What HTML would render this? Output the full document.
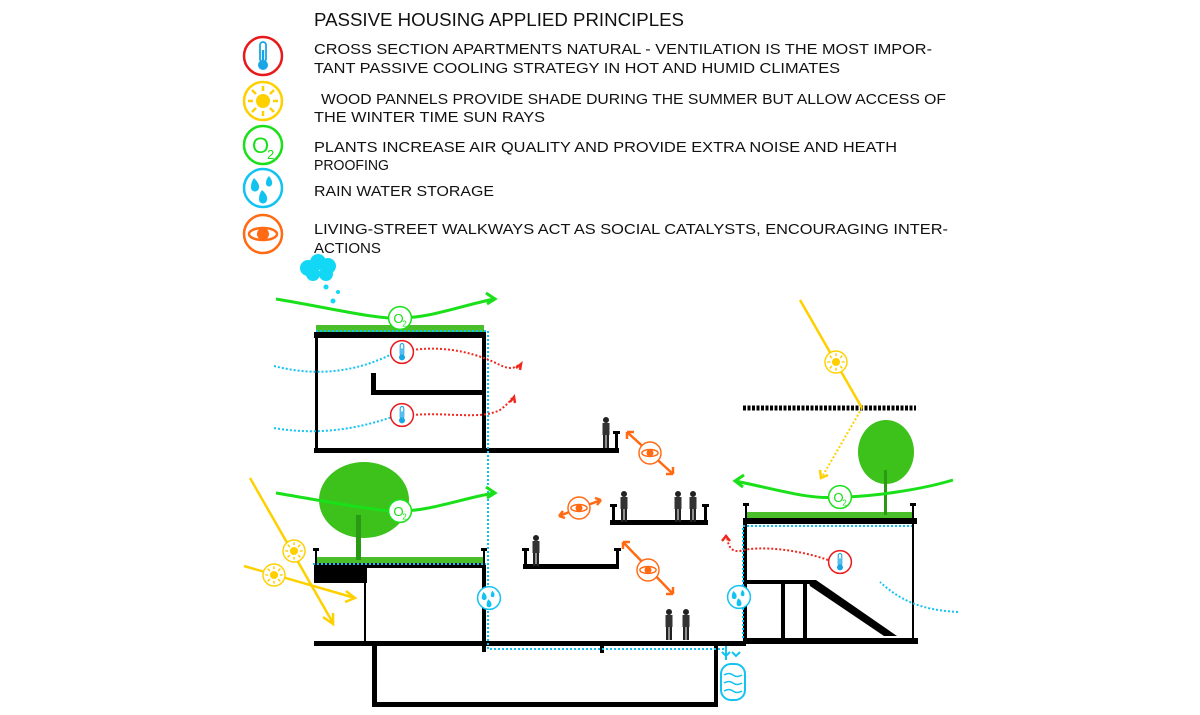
<!DOCTYPE html>
<html><head><meta charset="utf-8"><style>
html,body{margin:0;padding:0;background:#fff;}
svg{display:block;}
text{font-family:"Liberation Sans",sans-serif;}
</style></head><body>
<svg width="1200" height="715" viewBox="0 0 1200 715" xmlns="http://www.w3.org/2000/svg">
<defs>
<g id="therm"><circle r="19" fill="#fff" stroke="#e8191b" stroke-width="2.5"/><rect x="-3" y="-14" width="6" height="20" rx="3" fill="none" stroke="#19a5e6" stroke-width="1.8"/><rect x="-1.2" y="-6" width="2.4" height="12" fill="#19a5e6"/><circle cy="9" r="5" fill="#19a5e6"/></g>
<g id="sun"><circle r="19" fill="#fff" stroke="#ffd000" stroke-width="2.5"/><circle r="7" fill="#ffd000"/><g stroke="#ffd000" stroke-width="2.5"><line x1="0" y1="-10" x2="0" y2="-15"/><line x1="0" y1="10" x2="0" y2="15"/><line x1="-10" y1="0" x2="-15" y2="0"/><line x1="10" y1="0" x2="15" y2="0"/><line x1="7" y1="7" x2="11" y2="11"/><line x1="-7" y1="-7" x2="-11" y2="-11"/><line x1="7" y1="-7" x2="11" y2="-11"/><line x1="-7" y1="7" x2="-11" y2="11"/></g></g>
<g id="rain"><circle r="19" fill="#fff" stroke="#12c3f2" stroke-width="2.5"/><path d="M-9,-10 q6,6 5,10 a4,4 0 0 1 -8,-1 q0,-5 3,-9z M6,-12 q4,5 3,8 a3,3 0 0 1 -6,-1 q0,-4 3,-7z M-1,2 q6,5 5,10 a4,4 0 0 1 -8,-1 q0,-5 3,-9z" fill="#12c3f2"/></g>
<g id="eye"><circle r="19" fill="#fff" stroke="#ff6a13" stroke-width="2.5"/><ellipse rx="14" ry="6" fill="none" stroke="#ff6a13" stroke-width="2.5"/><circle r="6" fill="#ff6a13"/></g>
<g id="o2"><circle r="19" fill="#fff" stroke="#1ae01a" stroke-width="2.5"/><text x="-11" y="8" font-size="22" fill="#1ae01a">O</text><text x="4" y="14" font-size="13" fill="#1ae01a">2</text></g>
<g id="person"><circle cx="0" cy="-22" r="3" fill="#222"/><rect x="-3.5" y="-19" width="7" height="12" fill="#333"/><rect x="-3" y="-7" width="2.5" height="13" fill="#222"/><rect x="0.5" y="-7" width="2.5" height="13" fill="#222"/></g>
</defs>

<g fill="#111">
<text x="314" y="26" font-size="18" textLength="370" lengthAdjust="spacingAndGlyphs">PASSIVE HOUSING APPLIED PRINCIPLES</text>
<g font-size="15">
<text x="314" y="54" textLength="618" lengthAdjust="spacingAndGlyphs">CROSS SECTION APARTMENTS NATURAL - VENTILATION IS THE MOST IMPOR-</text>
<text x="314" y="73" textLength="526" lengthAdjust="spacingAndGlyphs">TANT PASSIVE COOLING STRATEGY IN HOT AND HUMID CLIMATES</text>
<text x="321" y="104" textLength="625" lengthAdjust="spacingAndGlyphs">WOOD PANNELS PROVIDE SHADE DURING THE SUMMER BUT ALLOW ACCESS OF</text>
<text x="314" y="122" textLength="231" lengthAdjust="spacingAndGlyphs">THE WINTER TIME SUN RAYS</text>
<text x="314" y="152" textLength="583" lengthAdjust="spacingAndGlyphs">PLANTS INCREASE AIR QUALITY AND PROVIDE EXTRA NOISE AND HEATH</text>
<text x="314" y="170" textLength="75" lengthAdjust="spacingAndGlyphs">PROOFING</text>
<text x="314" y="196" textLength="180" lengthAdjust="spacingAndGlyphs">RAIN WATER STORAGE</text>
<text x="314" y="234" textLength="634" lengthAdjust="spacingAndGlyphs">LIVING-STREET WALKWAYS ACT AS SOCIAL CATALYSTS, ENCOURAGING INTER-</text>
<text x="314" y="253" textLength="67" lengthAdjust="spacingAndGlyphs">ACTIONS</text>
</g></g>
<use href="#therm" x="263" y="56"/>
<use href="#sun" x="263" y="101"/>
<use href="#o2" x="263" y="145"/>
<use href="#rain" x="263" y="188"/>
<use href="#eye" x="263" y="234"/>

<g fill="#12d8f5"><circle cx="308" cy="268" r="8"/><circle cx="318" cy="262" r="8"/><circle cx="328" cy="266" r="8"/><circle cx="313" cy="274" r="7"/><circle cx="326" cy="274" r="7"/><circle cx="326" cy="287" r="2.5"/><circle cx="338" cy="292" r="2"/><circle cx="333" cy="301" r="2.5"/></g>

<g fill="#4bbf2a"><rect x="316" y="325" width="168" height="8"/><rect x="316" y="557" width="168" height="8"/><rect x="747" y="512" width="165" height="8"/></g>

<!-- trees -->
<g fill="#3cc21a"><ellipse cx="364" cy="500" rx="45" ry="38"/><ellipse cx="886" cy="452" rx="28" ry="32"/></g>
<rect x="356" y="515" width="5" height="45" fill="#2a9a14"/>
<rect x="884" y="470" width="3" height="45" fill="#2a9a14"/>

<g fill="#000">
<rect x="314" y="332" width="172" height="6"/>
<rect x="315" y="338" width="3" height="112"/>
<rect x="482" y="338" width="4" height="112"/>
<rect x="372" y="390" width="112" height="5"/>
<rect x="371" y="373" width="5" height="22"/>
<rect x="314" y="448" width="305" height="5"/>
<rect x="314" y="563" width="172" height="5"/>
<rect x="314" y="563" width="53" height="20"/>
<rect x="364" y="583" width="2" height="60"/>
<rect x="482" y="563" width="4" height="89"/>
<rect x="314" y="641" width="432" height="5"/>
<rect x="372" y="646" width="5" height="60"/>
<rect x="372" y="702" width="346" height="5"/>
<rect x="714" y="646" width="4" height="60"/>
<rect x="610" y="520" width="98" height="5"/>
<rect x="523" y="564" width="96" height="5"/>
<rect x="743" y="518" width="174" height="6"/>
<rect x="743" y="524" width="4" height="120"/>
<rect x="912" y="524" width="2" height="116"/>
<rect x="745" y="580" width="67" height="4"/>
<rect x="781" y="584" width="4" height="57"/>
<rect x="803" y="584" width="4" height="57"/>
<polygon points="808,580 816,580 897,636 884,636 810,586"/>
<rect x="743" y="638" width="175" height="6"/>
<rect x="600" y="646" width="4" height="7"/>
</g>
<line x1="743" y1="408" x2="916" y2="408" stroke="#000" stroke-width="5" stroke-dasharray="3,1.5"/>
<g fill="#000"><rect x="615" y="432" width="3" height="17"/><rect x="613" y="431" width="7" height="3"/>
<rect x="612" y="505" width="3" height="16"/><rect x="610" y="504" width="7" height="3"/>
<rect x="704" y="505" width="3" height="16"/><rect x="702" y="504" width="7" height="3"/>
<rect x="524" y="549" width="3" height="16"/><rect x="522" y="548" width="7" height="3"/>
<rect x="616" y="549" width="3" height="16"/><rect x="614" y="548" width="7" height="3"/>
<rect x="315" y="549" width="2" height="15"/><rect x="313" y="548" width="6" height="3"/>
<rect x="483" y="549" width="2" height="15"/><rect x="481" y="548" width="6" height="3"/>
<rect x="745" y="504" width="2" height="15"/><rect x="743" y="503" width="6" height="3"/>
<rect x="912" y="504" width="2" height="15"/><rect x="910" y="503" width="6" height="3"/></g>

<use href="#person" x="606" y="442"/>
<use href="#person" x="624" y="516"/>
<use href="#person" x="678" y="516"/>
<use href="#person" x="693" y="516"/>
<use href="#person" x="536" y="560"/>
<use href="#person" x="669" y="634"/>
<use href="#person" x="686" y="634"/>

<g fill="none" stroke="#12c3f2" stroke-width="2" stroke-dasharray="2,2">
<path d="M316,331 H488 V649 H726 M743,638 V526 H912"/>
<path d="M313,564 H486"/>
<path d="M274,366 C320,378 360,370 392,354"/>
<path d="M274,428 C320,436 360,428 392,417"/>
<path d="M958,612 C920,610 900,600 880,582"/>
</g>
<line x1="726" y1="646" x2="726" y2="660" stroke="#12c3f2" stroke-width="2"/>
<path d="M722,652 l4,4 4,-4 M732,652 l4,4 4,-4" stroke="#12c3f2" stroke-width="2" fill="none"/>
<rect x="721" y="664" width="24" height="36" rx="10" fill="#fff" stroke="#12c3f2" stroke-width="2"/>
<path d="M724,675 q5,-3 9,0 t9,0 M724,683 q5,-3 9,0 t9,0 M724,691 q5,-3 9,0 t9,0" stroke="#12c3f2" stroke-width="1.5" fill="none"/>

<g fill="none" stroke="#f0281e" stroke-width="2" stroke-dasharray="2,2">
<path d="M412,350 C450,345 480,355 500,365 C510,370 515,368 520,364"/>
<path d="M412,415 C450,412 480,420 500,410 C505,406 510,402 512,398"/>
<path d="M828,560 C800,550 760,545 740,551 C730,552 728,545 727,536"/>
</g>
<path d="M516,368 l5,-4 -1,6 M510,402 l4,-5 1,6 M722,541 l4,-5 4,5" stroke="#f0281e" stroke-width="2.5" fill="none"/>

<g fill="none" stroke="#1ae01a" stroke-width="3">
<path d="M276,299 C330,308 380,320 400,318 C430,318 460,306 494,299"/>
<path d="M486,293 l9,6 -8,5"/>
<path d="M276,493 C330,502 380,512 400,511 C430,511 460,499 494,493"/>
<path d="M486,487 l9,6 -8,5"/>
<path d="M735,481 C780,490 810,500 838,497 C870,497 920,490 953,480"/>
<path d="M744,475 l-9,6 8,6"/>
</g>

<g fill="none" stroke="#ffd000" stroke-width="2.5">
<path d="M250,478 L333,623"/><path d="M323,617 l10,7 0,-11"/>
<path d="M244,566 L355,598"/><path d="M346,591 l9,7 -10,4"/>
<path d="M800,300 L862,408"/>
</g>
<path d="M862,408 L822,477" stroke="#ffd000" stroke-width="2" stroke-dasharray="2,2" fill="none"/>
<path d="M820,470 l1,8 7,-3" stroke="#ffd000" stroke-width="2.5" fill="none"/>

<g fill="none" stroke="#ff6a13" stroke-width="2.5">
<path d="M627,432 L673,474 M627,432 l0,7 M627,432 l7,0 M673,474 l-7,0 M673,474 l0,-7"/>
<path d="M559,516 L601,500 M559,516 l4,-5 M559,516 l6,2 M601,500 l-6,-2 M601,500 l-4,5"/>
<path d="M623,542 L673,594 M623,542 l0,7 M623,542 l7,0 M673,594 l-7,0 M673,594 l0,-7"/>
</g>

<use href="#o2" x="400" y="318" transform="translate(400,318) scale(0.6) translate(-400,-318)"/>
<use href="#o2" x="400" y="511" transform="translate(400,511) scale(0.6) translate(-400,-511)"/>
<use href="#o2" x="840" y="497" transform="translate(840,497) scale(0.6) translate(-840,-497)"/>
<use href="#therm" x="402" y="352" transform="translate(402,352) scale(0.6) translate(-402,-352)"/>
<use href="#therm" x="402" y="415" transform="translate(402,415) scale(0.6) translate(-402,-415)"/>
<use href="#therm" x="840" y="562" transform="translate(840,562) scale(0.6) translate(-840,-562)"/>
<use href="#sun" x="294" y="551" transform="translate(294,551) scale(0.58) translate(-294,-551)"/>
<use href="#sun" x="274" y="575" transform="translate(274,575) scale(0.58) translate(-274,-575)"/>
<use href="#sun" x="836" y="362" transform="translate(836,362) scale(0.58) translate(-836,-362)"/>
<use href="#rain" x="489" y="598" transform="translate(489,598) scale(0.6) translate(-489,-598)"/>
<use href="#rain" x="739" y="597" transform="translate(739,597) scale(0.6) translate(-739,-597)"/>
<use href="#eye" x="650" y="453" transform="translate(650,453) scale(0.58) translate(-650,-453)"/>
<use href="#eye" x="579" y="508" transform="translate(579,508) scale(0.58) translate(-579,-508)"/>
<use href="#eye" x="648" y="570" transform="translate(648,570) scale(0.58) translate(-648,-570)"/>
</svg>
</body></html>
